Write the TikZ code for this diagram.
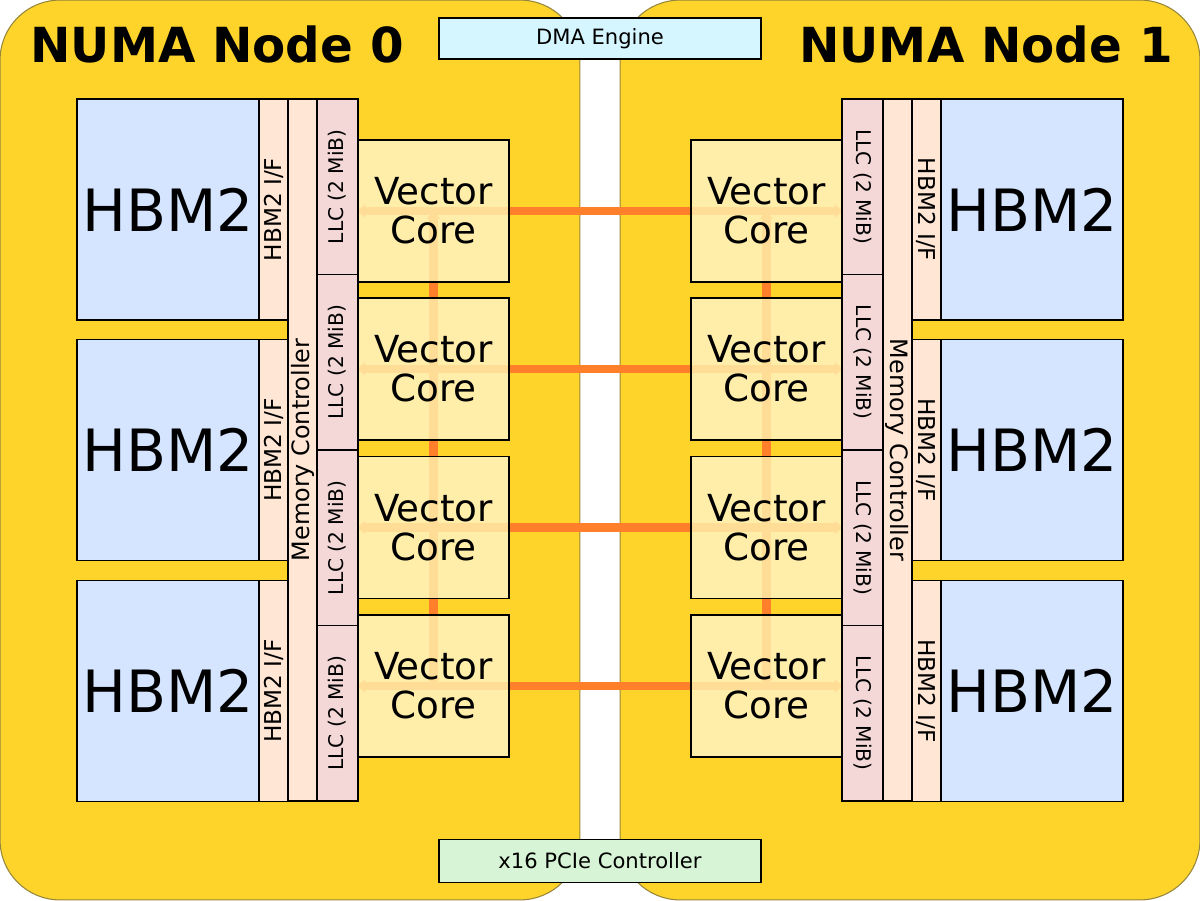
\documentclass[tikz,border=0pt]{standalone}
\usepackage{fontspec}
\setmainfont{DejaVu Sans}
\usepackage{tikz}
\usetikzlibrary{arrows.meta}

\definecolor{numafill}{HTML}{FFD42A}
\definecolor{numaedge}{RGB}{150,135,60}
\definecolor{hbmblue}{HTML}{D5E5FF}
\definecolor{ifpeach}{HTML}{FFE6D5}
\definecolor{llcpink}{HTML}{F4D7D7}
\definecolor{coreyellow}{HTML}{FFEEAA}
\definecolor{dmacyan}{HTML}{D5F6FF}
\definecolor{pciegreen}{HTML}{D7F4D7}
\definecolor{meshorange}{HTML}{FF7F2A}

\pgfdeclarelayer{panel}
\pgfdeclarelayer{mesh}
\pgfsetlayers{panel,mesh,main}

\begin{document}
\begin{tikzpicture}[x=0.02cm,y=-0.02cm]
  \tikzset{numa/.style = {shape=rectangle,draw=numaedge,fill=numafill,line width=0.6pt,rounded corners=1.2cm,minimum width=11.6cm,minimum height=18cm,inner sep=0}}
  \tikzset{block/.style = {shape=rectangle,draw,line width=0.9pt,inner sep=0}}
  \tikzset{hbm/.style = {block,fill=hbmblue,minimum width=3.64cm,minimum height=4.42cm,font=\fontsize{33.2}{36}\selectfont}}
  \tikzset{hif/.style = {block,fill=ifpeach,minimum width=4.42cm,minimum height=0.58cm,font=\fontsize{13.2}{15}\selectfont}}
  \tikzset{mctl/.style = {block,fill=ifpeach,minimum width=14.04cm,minimum height=0.58cm,font=\fontsize{13.6}{15}\selectfont}}
  \tikzset{llc/.style = {block,fill=llcpink,minimum width=3.51cm,minimum height=0.82cm,font=\fontsize{11.5}{13}\selectfont}}
  \tikzset{core/.style = {block,fill=coreyellow,fill opacity=0.85,text opacity=1,minimum width=3.02cm,minimum height=2.84cm,align=center,font=\fontsize{21.2}{22.1}\selectfont}}
  \tikzset{ctrl/.style = {block,minimum width=6.44cm,minimum height=0.82cm,font=\fontsize{12}{14}\selectfont}}
  \tikzset{title/.style = {inner sep=0,font=\bfseries\fontsize{27.5}{30}\selectfont}}
  \tikzset{link/.style = {draw=meshorange,line width=4.8pt,{Triangle[width=7.4pt,length=4.5pt]}-{Triangle[width=7.4pt,length=4.5pt]}}}

  \useasboundingbox (0,0) rectangle (1200,901);

  \begin{pgfonlayer}{panel}
    \node[numa] (P0) at (290,450) {};
    \node[numa] (P1) at (910,450) {};
  \end{pgfonlayer}

  \node[title,anchor=base west] (T0) at (30,63) {NUMA Node 0};
  \node[title,anchor=base east] (T1) at (1173,63) {NUMA Node 1};
  \node[ctrl,fill=dmacyan] (DMA) at (600,38.5) {DMA Engine};
  \node[ctrl,fill=pciegreen,minimum height=0.86cm] (PCIE) at (600,861) {x16 PCIe Controller};

  \node[mctl,rotate=90] (MC0) at (302.5,450) {Memory Controller};
  \node[mctl,rotate=-90] (MC1) at (897.5,450) {Memory Controller};

  \foreach \y [count=\i] in {209.5,450,691} {
    \node[hbm] (H0\i) at (168,\y) {HBM2};
    \node[hif,rotate=90] (I0\i) at (273.5,\y) {HBM2 I/F};
    \node[hbm] (H1\i) at (1032,\y) {HBM2};
    \node[hif,rotate=-90] (I1\i) at (926.5,\y) {HBM2 I/F};
  }
  \foreach \y [count=\i] in {186.75,362.25,537.75,713.25} {
    \node[llc,rotate=90] (L0\i) at (337.5,\y) {LLC (2 MiB)};
    \node[llc,rotate=-90] (L1\i) at (862.5,\y) {LLC (2 MiB)};
  }
  \foreach \y [count=\i] in {211,369,527.5,686} {
    \node[core] (C0\i) at (433.5,\y) {Vector\\Core};
    \node[core] (C1\i) at (766.5,\y) {Vector\\Core};
  }

  % opaque base under the cores, so only the mesh shows through
  \begin{pgfonlayer}{panel}
    \foreach \i in {1,...,4} {
      \fill[coreyellow] (C0\i.south west) rectangle (C0\i.north east);
      \fill[coreyellow] (C1\i.south west) rectangle (C1\i.north east);
    }
  \end{pgfonlayer}

  \begin{pgfonlayer}{mesh}
    \foreach \i in {1,...,4}
      \draw[link] (C0\i.west) -- (C1\i.east);
    \foreach \from/\to in {C01/C04, C11/C14}
      \draw[link] (\from.center) -- (\to.center);
  \end{pgfonlayer}
\end{tikzpicture}
\end{document}
